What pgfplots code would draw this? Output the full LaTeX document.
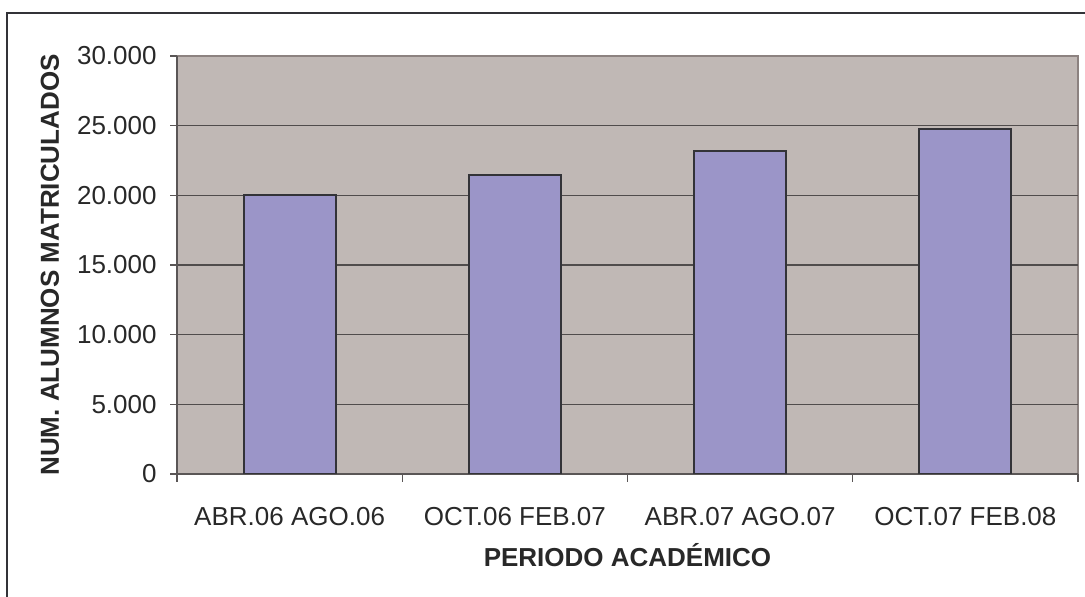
\documentclass[border=0pt]{standalone}
\usepackage{pgfplots}
\pgfplotsset{compat=1.18}
\usepackage{fontspec}
\setmainfont{Liberation Sans}
\definecolor{bgc}{RGB}{192,184,181}
\definecolor{barc}{RGB}{155,149,200}
\definecolor{edgec}{RGB}{51,51,56}
\definecolor{gridc}{RGB}{80,76,76}
\definecolor{boxc}{RGB}{140,130,128}
\definecolor{axc}{RGB}{90,86,86}
\definecolor{txtc}{RGB}{40,40,40}
\begin{document}
\begin{tikzpicture}
\useasboundingbox (0,0) rectangle (542.5pt,298.5pt);
\draw[line width=1pt, color=edgec] (3.65pt,-5pt) -- (3.65pt,291.85pt) -- (560pt,291.85pt);
\begin{axis}[
  at={(88.5pt,61.5pt)}, anchor=south west,
  scale only axis, width=450.5pt, height=209pt,
  xmin=-0.5, xmax=3.5, ymin=0, ymax=30000,
  axis lines=left,
  axis line style={-, draw=axc, line width=0.7pt},
  axis background/.style={fill=bgc, draw=boxc, line width=0.7pt},
  xtick={0,1,2,3},
  xticklabels={ABR.06 AGO.06, OCT.06 FEB.07, ABR.07 AGO.07, OCT.07 FEB.08},
  minor xtick={-0.5,0.5,1.5,2.5,3.5},
  major x tick style={draw=none},
  ytick={5000,10000,15000,20000,25000},
  extra y ticks={0,30000},
  extra y tick style={grid=none},
  ymajorgrids,
  grid style={draw=gridc, line width=0.6pt},
  tick align=outside,
  major tick length=3.5pt,
  minor tick length=4pt,
  tick style={draw=axc, line width=0.6pt},
  scaled y ticks=false,
  /pgf/number format/fixed,
  /pgf/number format/precision=0,
  /pgf/number format/1000 sep={.},
  /pgf/number format/assume math mode=true,
  ticklabel style={font=\fontsize{13}{15}\selectfont, text=txtc},
  yticklabel style={anchor=east, inner sep=0pt, xshift=-6.5pt},
  xticklabel style={anchor=base, yshift=-22.5pt, inner sep=0pt},
  xlabel={PERIODO ACADÉMICO},
  xlabel style={at={(axis description cs:0.5,-0.2225)}, anchor=base, font=\bfseries\fontsize{13}{15}\selectfont, text=txtc, inner sep=0pt},
  ylabel={NUM. ALUMNOS MATRICULADOS},
  ylabel style={at={(axis description cs:-0.141,0.5)}, anchor=center, font=\bfseries\fontsize{13}{15}\selectfont, text=txtc},
]
\addplot[ybar, bar width=46pt, fill=barc, draw=edgec, line width=1pt]
  coordinates {(0,20000) (1,21450) (2,23170) (3,24740)};
\end{axis}
\end{tikzpicture}
\end{document}
